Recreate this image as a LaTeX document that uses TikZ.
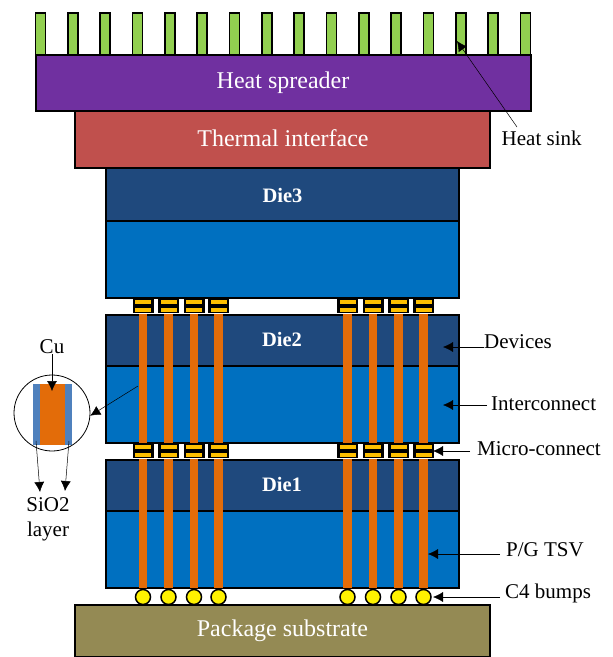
\documentclass[tikz,border=0pt]{standalone}
\usepackage{fontspec}
\setmainfont{Liberation Serif}
\usetikzlibrary{arrows.meta}
\definecolor{fincol}{HTML}{92D050}
\definecolor{spreadercol}{HTML}{7030A0}
\definecolor{interfacecol}{HTML}{C0504D}
\definecolor{devicecol}{HTML}{1F497D}
\definecolor{metalcol}{HTML}{0070C0}
\definecolor{tsvcol}{HTML}{E36C09}
\definecolor{goldcol}{HTML}{FFC000}
\definecolor{substratecol}{HTML}{948A54}
\definecolor{oxidecol}{HTML}{4F81BD}
\tikzset{
  layer/.style={draw=black,line width=1.5pt,inner sep=0pt,text=white},
  die/.style={layer,fill=devicecol,minimum width=353},
  metal/.style={layer,fill=metalcol,minimum width=353},
  fin/.style={draw=black,line width=1.5pt,fill=fincol,inner sep=0pt,minimum width=10,minimum height=42},
  tsv/.style={fill=tsvcol,inner sep=0pt,minimum width=8.5,minimum height=129},
  micro/.style={fill=black,inner sep=0pt,minimum width=21,minimum height=15},
  bar/.style={fill=goldcol,inner sep=0pt,minimum width=16,minimum height=3.5},
  bump/.style={circle,draw=black,line width=1.5pt,fill=yellow,inner sep=0pt,minimum size=15},
  lbl/.style={inner sep=0pt,font=\fontsize{21}{21}\selectfont},
  biglbl/.style={inner sep=0pt,text=white,font=\fontsize{24}{24}\selectfont},
  dielbl/.style={inner sep=0pt,text=white,font=\bfseries\fontsize{20.5}{20.5}\selectfont},
  arr/.style={-{Latex[length=10pt,width=10pt]},line width=.5pt}
}
\begin{document}
\begin{tikzpicture}[x=1pt,y=-1pt]
  \useasboundingbox (0,0) rectangle (613,657);

  % heat sink and top layers
  \foreach \i in {0,...,15}
    \node[fin] (fin\i) at ({40.5+32.33*\i},34) {};
  \node[layer,fill=spreadercol,minimum width=495,minimum height=56] (spreader) at (283.5,83) {};
  \node[biglbl] (spreadertext) at (283,83) {Heat spreader};
  \node[layer,fill=interfacecol,minimum width=415,minimum height=57] (interface) at (282.5,139.5) {};
  \node[biglbl] (interfacetext) at (283,138) {Thermal interface};

  % dies
  \node[die,minimum height=53] (die3) at (282.5,194.5) {};
  \node[dielbl] (die3text) at (282.5,195) {Die3};
  \node[metal,minimum height=77] (metal3) at (282.5,259.5) {};
  \node[die,minimum height=51] (die2) at (282.5,340.5) {};
  \node[metal,minimum height=77] (metal2) at (282.5,404.5) {};
  \node[die,minimum height=51] (die1) at (282.5,485.5) {};
  \node[metal,minimum height=77] (metal1) at (282.5,549.5) {};
  \node[dielbl] (die2text) at (282,339) {Die2};
  \node[dielbl] (die1text) at (282,484) {Die1};
  \node[layer,fill=substratecol,minimum width=415,minimum height=52] (substrate) at (282.5,631) {};
  \node[biglbl] (substratetext) at (282.5,631) {Package substrate};

  % vias, micro-connects, bumps
  \foreach \x [count=\n] in {143,168.5,194,218.5,347.5,373,398.5,423.5} {
    \node[tsv] (upper\n) at (\x,378.5) {};
    \node[tsv] (lower\n) at (\x,523.5) {};
    \node[micro] (microa\n) at (\x,305.5) {};
    \node[bar] (bara\n) at (\x,302) {};
    \node[bar] (barb\n) at (\x,310) {};
    \node[micro] (microb\n) at (\x,450.5) {};
    \node[bar] (barc\n) at (\x,447) {};
    \node[bar] (bard\n) at (\x,455) {};
    \node[bump] (bump\n) at (\x,597) {};
  }

  % cross section
  \node[circle,draw=black,line width=.8pt,inner sep=0pt,minimum size=76] (lens) at (52,413) {};
  \node[fill=oxidecol,inner sep=0pt,minimum width=39,minimum height=61] (oxide) at (52.5,414) {};
  \node[fill=tsvcol,inner sep=0pt,minimum width=25,minimum height=61] (cu) at (52.5,414) {};
  \node[lbl] (cutext) at (52,347) {Cu};
  \node[lbl] (siotext) at (48,505) {SiO2};
  \node[lbl] (layertext) at (48,531) {layer};
  \coordinate (cutip) at (52,391);
  \coordinate (tap) at (138,386);
  \coordinate (sioa) at (36,441);
  \coordinate (siob) at (69,441);
  \coordinate (sioatip) at (40,492);
  \coordinate (siobtip) at (65,491);
  \draw[arr] (cutext) -- (cutip);
  \draw[arr] (tap) -- (lens.-4);
  \draw[arr] (sioa) -- (sioatip);
  \draw[arr] (siob) -- (siobtip);

  % labels on the right
  \node[lbl,anchor=west] (sink) at (501.5,138) {Heat sink};
  \node[lbl,anchor=west] (devices) at (484,342) {Devices};
  \node[lbl,anchor=west] (interconnect) at (491,404) {Interconnect};
  \node[lbl,anchor=west] (microconnect) at (477,449) {Micro-connect};
  \node[lbl,anchor=west] (pgtsv) at (506,550) {P/G TSV};
  \node[lbl,anchor=west] (cfour) at (505,593) {C4 bumps};
  \coordinate (sinkstart) at (517,127);
  \coordinate (sinktip) at (457,41);
  \coordinate (devicestip) at (443,347);
  \coordinate (metaltip) at (443,405);
  \coordinate (microtip) at (433,451);
  \coordinate (tsvtip) at (428,554);
  \coordinate (bumptip) at (433,597);
  \draw[arr] (sinkstart) -- (sinktip);
  \draw[arr] (devices.west |- devicestip) -- (devicestip);
  \draw[arr] (interconnect.west |- metaltip) ++(-4,0) -- (metaltip);
  \draw[arr] (microconnect.west |- microtip) ++(-7,0) -- (microtip);
  \draw[arr] (pgtsv.west |- tsvtip) ++(-6,0) -- (tsvtip);
  \draw[arr] (cfour.west |- bumptip) ++(-5,0) -- (bumptip);
\end{tikzpicture}
\end{document}
